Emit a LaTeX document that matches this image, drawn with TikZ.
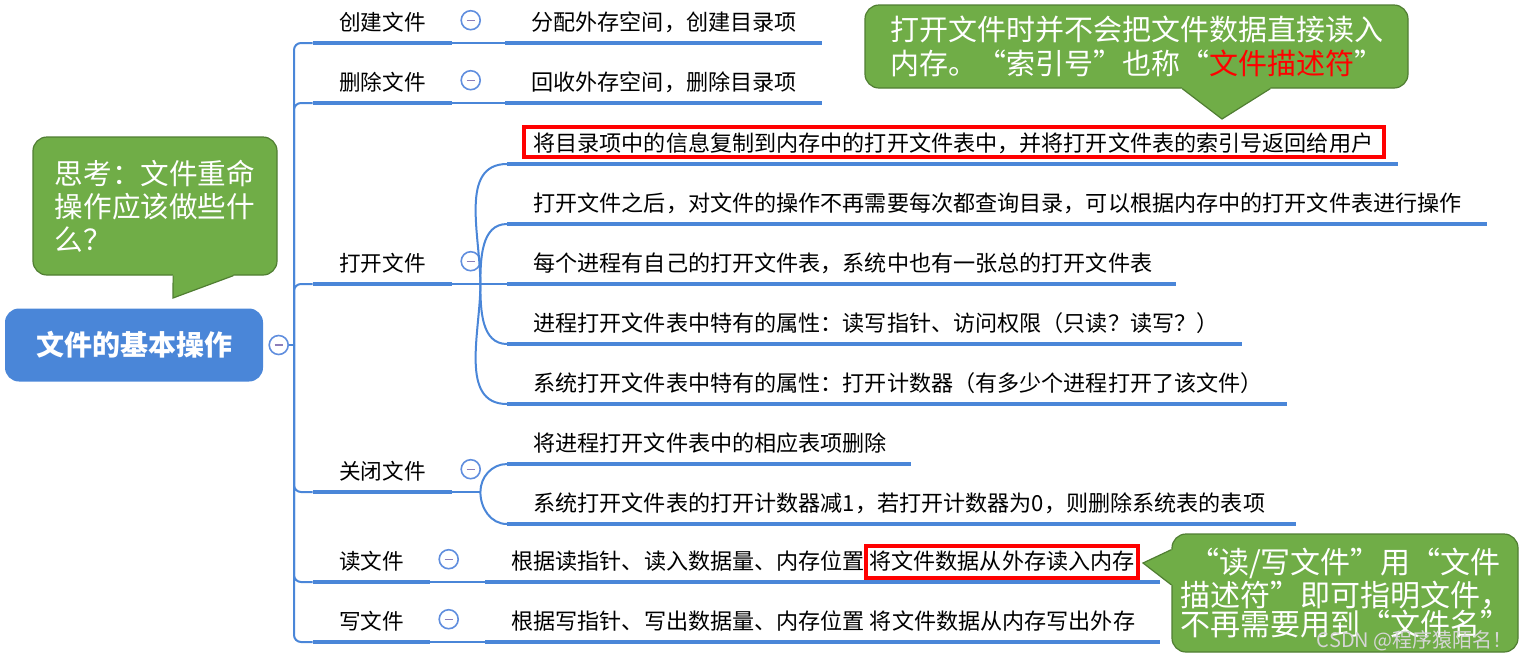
\documentclass[tikz,border=0pt]{standalone}
\usepackage{fontspec}
\setmainfont{Noto Sans CJK SC}
\usetikzlibrary{positioning,calc}
\definecolor{linkblue}{RGB}{74,134,216}
\definecolor{foldblue}{RGB}{96,142,222}
\definecolor{foldmark}{RGB}{140,126,186}
\definecolor{notegreen}{RGB}{112,173,71}
\definecolor{noteedge}{RGB}{80,126,50}
\definecolor{marktext}{RGB}{214,214,214}

\begin{document}
\begin{tikzpicture}[x=0.5pt,y=-0.5pt,
		trunk/.style={linkblue,line width=1pt},
		bar/.style={linkblue,line width=2.4pt},
		topic/.style={anchor=south,text height=9pt,text depth=2pt,inner ysep=4.2pt,font=\fontsize{10.8}{12}\selectfont},
		leaf/.style={anchor=south west,inner xsep=13pt,text height=9pt,text depth=2pt,inner ysep=4.2pt,font=\fontsize{11.05}{12}\selectfont},
		fold/.style={circle,draw=foldblue,line width=0.8pt,fill=white,minimum size=9.5pt,inner sep=0pt,
			path picture={\draw[foldmark,line width=0.7pt] ([xshift=-2pt]path picture bounding box.center) -- ([xshift=2pt]path picture bounding box.center);}},
		redbox/.style={draw=red,line width=2pt},
		note/.style={fill=notegreen,draw=noteedge,line width=0.6pt,rounded corners=7pt,text=white}]
	\useasboundingbox (0,0) rectangle (1526,661);

	% root and its fold mark
	\node[fill=linkblue,rounded corners=7pt,minimum width=129pt,minimum height=36.5pt,text=white,font=\fontsize{14}{16}\bfseries] (root) at (134,345) {文件的基本操作};
	\node[fold,right=2.5pt of root] (f0) {};
	\coordinate (trunk) at ([xshift=2.5pt]f0.east);
	\draw[trunk] (f0.east) -- (trunk);

	% first level
	\foreach \n/\x/\y/\w/\txt in {1/382.5/43/69.5/创建文件,2/382.5/103/69.5/删除文件,3/382.5/284/69.5/打开文件,
		4/382.5/492/69.5/关闭文件,5/371.5/582/58.5/读文件,6/371.5/642/58.5/写文件}{
		\node[topic,minimum width=\w pt] (t\n) at (\x,\y) {\txt};
		\node[fold,right=4pt of t\n,yshift=1.5pt] (f\n) {};
		\draw[trunk,rounded corners=3.5pt] (trunk) |- (t\n.south west);
		\draw[bar] (t\n.south west) -- (t\n.south east);
	}

	% second level
	\foreach \n/\x/\y/\e/\txt in {1/505/43/822/分配外存空间，创建目录项,2/505/103/822/回收外存空间，删除目录项,
		3/507/164/1398/将目录项中的信息复制到内存中的打开文件表中，并将打开文件表的索引号返回给用户,
		4/507/224/1487/打开文件之后，对文件的操作不再需要每次都查询目录，可以根据内存中的打开文件表进行操作,
		5/507/284/1176/每个进程有自己的打开文件表，系统中也有一张总的打开文件表,
		6/507/344/1242/进程打开文件表中特有的属性：读写指针、访问权限（只读？读写？）,
		7/507/404/1287/系统打开文件表中特有的属性：打开计数器（有多少个进程打开了该文件）,
		8/507/464/911/将进程打开文件表中的相应表项删除,
		9/507/524/1296/系统打开文件表的打开计数器减1，若打开计数器为0，则删除系统表的表项,
		10/485/582/1160/根据读指针、读入数据量、内存位置,
		11/485/642/1160/根据写指针、写出数据量、内存位置 将文件数据从内存写出外存}{
		\node[leaf] (o\n) at (\x,\y) {\txt};
		\coordinate (e\n) at (\e,\y);
		\draw[bar] (o\n.south west) -- (e\n);
	}
	\node[leaf,redbox,anchor=west,inner xsep=1.5pt,inner ysep=2.5pt,right=-13.5pt of o10] (o10b) {将文件数据从外存读入内存};
	\draw[redbox] ([xshift=8.5pt,yshift=3.5pt]o3.south west) rectangle ([xshift=-8pt,yshift=-1.4pt]o3.north east);

	\draw[trunk] (t1.south east) -- (o1.south west);
	\draw[trunk] (t2.south east) -- (o2.south west);
	\coordinate (k3) at ([xshift=14pt]t3.south east);
	\draw[trunk] (t3.south east) -- (k3) -- (o5.south west);
	\foreach \n/\a in {3/90,4/90,6/-90,7/-90}
		\draw[trunk] (k3) to[out=\a,in=180] (o\n.south west);
	\coordinate (k4) at ([xshift=14pt]t4.south east);
	\draw[trunk] (t4.south east) -- (k4);
	\draw[trunk] (k4) to[out=90,in=180] (o8.south west);
	\draw[trunk] (k4) to[out=-90,in=180] (o9.south west);
	\draw[trunk] (t5.south east) -- (o10.south west);
	\draw[trunk] (t6.south east) -- (o11.south west);

	% notes
	\node[note,minimum width=122pt,minimum height=69pt,align=left,font=\fontsize{14.3}{16.5}\selectfont] (q1) at (155,206)
		{思考：文件重命\\操作应该做些什\\么？};
	\coordinate (q1a) at ($(q1.south west)!0.574!(q1.south east)$);
	\coordinate (q1b) at ($(q1.south west)!0.82!(q1.south east)$);
	\coordinate (q1t) at (173,298);
	\fill[notegreen] ([yshift=1.5pt]q1a) -- (q1a) -- (q1t) -- (q1b) -- ([yshift=1.5pt]q1b) -- cycle;
	\draw[noteedge,line width=0.6pt] (q1a) -- (q1t) -- (q1b);

	\node[note,minimum width=271.5pt,minimum height=41.5pt,align=left,font=\fontsize{14.5}{17}\selectfont] (q2) at (1136.5,46.5)
		{打开文件时并不会把文件数据直接读入\\内存。“索引号”也称“\textcolor{red}{文件描述符}”};
	\coordinate (q2a) at ($(q2.south west)!0.584!(q2.south east)$);
	\coordinate (q2b) at ($(q2.south west)!0.746!(q2.south east)$);
	\coordinate (q2t) at (1222,119);
	\fill[notegreen] ([yshift=1.5pt]q2a) -- (q2a) -- (q2t) -- (q2b) -- ([yshift=1.5pt]q2b) -- cycle;
	\draw[noteedge,line width=0.6pt] (q2a) -- (q2t) -- (q2b);

	\node[note,minimum width=173pt,minimum height=59pt,align=center,font=\fontsize{15}{14.5}\selectfont] (q3) at (1345,593)
		{“读/写文件”用“文件\\描述符”即可指明文件，\\不再需要用到“文件名”};
	\coordinate (q3a) at ($(q3.north west)!0.136!(q3.south west)$);
	\coordinate (q3b) at ($(q3.north west)!0.432!(q3.south west)$);
	\coordinate (q3t) at (1143,563);
	\fill[notegreen] ([xshift=1.5pt]q3a) -- (q3a) -- (q3t) -- (q3b) -- ([xshift=1.5pt]q3b) -- cycle;
	\draw[noteedge,line width=0.6pt] (q3a) -- (q3t) -- (q3b);

	\node[text=marktext,anchor=east,inner sep=0pt,font=\fontsize{10}{12}\selectfont] (mark) at (1513,641) {CSDN @程序猿陌名！};
\end{tikzpicture}
\end{document}
